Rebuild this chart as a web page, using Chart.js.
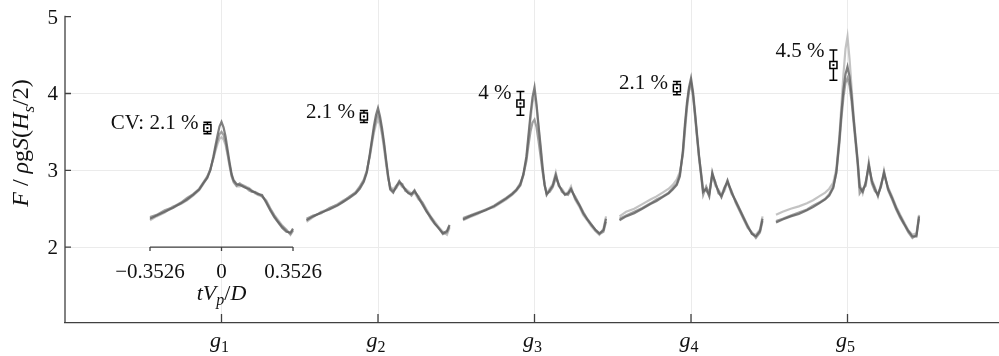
<!DOCTYPE html>
<html>
<head>
<meta charset="utf-8">
<script src="https://cdn.jsdelivr.net/npm/chart.js@4.4.1/dist/chart.umd.min.js"></script>
<style>
  html, body { margin: 0; padding: 0; background: #fff; }
  #wrap { width: 999px; height: 356px; }
</style>
</head>
<body>
<div id="wrap"><canvas id="chart"></canvas></div>
<script>
// categories g1..g5 sit at x = 1..5
const groupSubs = ["1", "2", "3", "4", "5"];
const groupPos = [1, 2, 3, 4, 5];
const yTicks = [2, 3, 4, 5];

// time axis of each trace, tVp/D
const tGrid = [-0.3526, -0.32, -0.28, -0.24, -0.20, -0.17, -0.14, -0.11, -0.09, -0.07, -0.055, -0.04, -0.03, -0.02, -0.01,
  0, 0.01, 0.02, 0.03, 0.04, 0.05, 0.06, 0.075, 0.09, 0.105, 0.12, 0.135, 0.15, 0.165, 0.18,
  0.20, 0.22, 0.24, 0.26, 0.28, 0.30, 0.32, 0.34, 0.3526];

// F / rho g S (Hs/2), three repeats per group (dark, medium, light)
const curvesG1 = [
  [2.37,2.41,2.46,2.51,2.57,2.62,2.68,2.75,2.83,2.90,3.00,3.18,3.32,3.45,3.57,3.63,3.56,3.44,3.27,3.10,2.95,2.87,2.82,2.81,2.79,2.77,2.76,2.73,2.71,2.69,2.68,2.58,2.48,2.39,2.32,2.25,2.20,2.19,2.24],
  [2.39,2.42,2.48,2.52,2.58,2.64,2.69,2.76,2.84,2.92,3.01,3.16,3.28,3.39,3.47,3.50,3.46,3.37,3.22,3.07,2.93,2.85,2.80,2.83,2.80,2.78,2.74,2.72,2.72,2.70,2.66,2.60,2.50,2.41,2.33,2.27,2.22,2.17,2.22],
  [2.35,2.40,2.45,2.53,2.56,2.61,2.67,2.74,2.82,2.91,3.02,3.15,3.25,3.34,3.41,3.43,3.40,3.33,3.20,3.05,2.92,2.84,2.79,2.79,2.81,2.79,2.77,2.74,2.70,2.68,2.66,2.61,2.51,2.42,2.35,2.28,2.23,2.16,2.21]
];
const curvesG2 = [
  [2.35,2.40,2.45,2.49,2.54,2.59,2.64,2.70,2.76,2.85,2.97,3.22,3.40,3.58,3.72,3.81,3.70,3.55,3.36,3.14,2.93,2.75,2.71,2.79,2.86,2.80,2.75,2.70,2.69,2.74,2.64,2.55,2.46,2.39,2.31,2.24,2.18,2.21,2.29],
  [2.37,2.41,2.44,2.51,2.55,2.60,2.66,2.71,2.78,2.87,2.99,3.20,3.37,3.53,3.66,3.74,3.65,3.50,3.32,3.11,2.91,2.77,2.73,2.77,2.84,2.82,2.73,2.71,2.67,2.72,2.66,2.57,2.47,2.37,2.30,2.25,2.17,2.19,2.27],
  [2.33,2.39,2.46,2.50,2.56,2.61,2.65,2.72,2.79,2.88,3.00,3.18,3.34,3.49,3.60,3.66,3.60,3.46,3.28,3.08,2.90,2.79,2.75,2.80,2.83,2.78,2.76,2.73,2.70,2.71,2.62,2.58,2.49,2.40,2.33,2.26,2.20,2.16,2.25]
];
const curvesG3 = [
  [2.36,2.40,2.44,2.48,2.53,2.58,2.63,2.69,2.74,2.81,2.95,3.18,3.45,3.72,3.95,4.08,3.86,3.58,3.32,3.04,2.81,2.68,2.74,2.80,2.94,2.80,2.74,2.68,2.70,2.76,2.64,2.55,2.44,2.36,2.29,2.23,2.18,2.22,2.37],
  [2.38,2.41,2.45,2.49,2.54,2.59,2.64,2.70,2.75,2.83,2.94,3.12,3.32,3.50,3.62,3.66,3.56,3.38,3.18,2.98,2.80,2.70,2.72,2.78,2.90,2.82,2.72,2.69,2.68,2.74,2.66,2.56,2.46,2.37,2.30,2.22,2.17,2.20,2.33],
  [2.35,2.39,2.43,2.49,2.52,2.57,2.62,2.68,2.73,2.80,2.93,3.15,3.40,3.66,3.88,3.98,3.82,3.55,3.28,3.00,2.82,2.70,2.76,2.82,2.97,2.79,2.76,2.70,2.71,2.79,2.62,2.53,2.42,2.35,2.27,2.21,2.16,2.24,2.40]
];
const curvesG4 = [
  [2.35,2.40,2.44,2.50,2.56,2.60,2.65,2.70,2.75,2.81,2.92,3.26,3.60,3.88,4.08,4.20,4.02,3.75,3.46,3.18,2.95,2.72,2.76,2.66,2.97,2.83,2.73,2.65,2.76,2.87,2.71,2.60,2.49,2.38,2.27,2.17,2.14,2.21,2.37],
  [2.37,2.41,2.46,2.51,2.57,2.62,2.66,2.71,2.77,2.83,2.95,3.22,3.55,3.84,4.05,4.15,3.98,3.70,3.42,3.15,2.92,2.68,2.79,2.70,2.94,2.85,2.70,2.67,2.78,2.84,2.73,2.58,2.47,2.36,2.25,2.19,2.12,2.19,2.34],
  [2.40,2.46,2.50,2.56,2.62,2.66,2.71,2.76,2.81,2.88,2.98,3.20,3.50,3.80,4.02,4.12,3.96,3.72,3.44,3.17,2.97,2.75,2.73,2.69,2.95,2.80,2.75,2.68,2.73,2.85,2.69,2.61,2.50,2.39,2.28,2.18,2.16,2.23,2.40]
];
const curvesG5 = [
  [2.32,2.36,2.40,2.43,2.48,2.52,2.57,2.62,2.67,2.77,2.98,3.40,3.75,4.05,4.25,4.35,4.22,3.98,3.68,3.40,3.12,2.78,2.72,2.84,3.07,2.86,2.76,2.67,2.80,2.97,2.76,2.64,2.51,2.40,2.30,2.21,2.14,2.14,2.40],
  [2.34,2.37,2.41,2.45,2.49,2.54,2.58,2.63,2.69,2.79,2.96,3.35,3.68,3.95,4.14,4.20,4.10,3.90,3.62,3.35,3.08,2.70,2.76,2.80,3.10,2.83,2.73,2.69,2.78,2.99,2.74,2.62,2.49,2.38,2.29,2.19,2.12,2.16,2.37],
  [2.42,2.46,2.50,2.53,2.57,2.61,2.66,2.71,2.76,2.84,3.02,3.45,3.85,4.25,4.58,4.74,4.45,4.08,3.72,3.42,3.14,2.82,2.70,2.86,3.04,2.88,2.78,2.66,2.82,2.94,2.78,2.66,2.53,2.42,2.32,2.22,2.16,2.18,2.42]
];

// peak mean and coefficient of variation
const cvMean = [3.55, 3.70, 3.87, 4.07, 4.37];
const cvPct = [2.1, 2.1, 4, 2.1, 4.5];
const cvLabels = ["CV: 2.1 %", "2.1 %", "4 %", "2.1 %", "4.5 %"];

// small time axis under g1
const insetTicks = [-0.3526, 0, 0.3526];
const insetTickLabels = ["\u22120.3526", "0", "0.3526"];
const insetLevel = 2;

const T_SPAN = 0.4569 / 0.3526;   // category units per unit of tVp/D
const CV_SHIFT = -0.09;
const FONT = '"Liberation Serif", "DejaVu Serif", serif';
const AXIS_COL = "#404040";
const GRID_COL = "#ebebeb";
const TEXT_COL = "#111";

const shades = ["rgba(95,95,95,0.8)", "rgba(130,130,130,0.75)", "rgba(180,180,180,0.8)"];
const allCurves = [curvesG1, curvesG2, curvesG3, curvesG4, curvesG5];

const datasets = [];
allCurves.forEach((set, gi) => {
  set.forEach((ys, k) => {
    datasets.push({
      type: "line",
      data: ys.map((v, i) => ({ x: groupPos[gi] + tGrid[i] * T_SPAN, y: v })),
      borderColor: shades[k],
      borderWidth: 2.2,
      pointRadius: 0,
      tension: 0,
      order: k + 1,
    });
  });
});
datasets.push({
  type: "scatter",
  data: cvMean.map((m, i) => ({ x: groupPos[i] + CV_SHIFT, y: m })),
  pointStyle: "rect",
  pointRadius: 5,
  backgroundColor: "#fff",
  borderColor: "#000",
  borderWidth: 1.5,
  order: 0,
});

function drawRich(ctx, segs, x, y, size, align) {
  const fontOf = s => `${s.it ? "italic " : ""}${s.sub ? Math.round(size * 0.72) : size}px ${FONT}`;
  let w = 0;
  segs.forEach(s => { ctx.font = fontOf(s); s.w = ctx.measureText(s.t).width; w += s.w; });
  let cx = align === "center" ? x - w / 2 : align === "right" ? x - w : x;
  ctx.textAlign = "left";
  ctx.textBaseline = "alphabetic";
  segs.forEach(s => {
    ctx.font = fontOf(s);
    ctx.fillText(s.t, cx, y + (s.sub ? size * 0.24 : 0));
    cx += s.w;
  });
}

const overlay = {
  id: "overlay",
  beforeDatasetsDraw(chart) {
    const { ctx, scales: { x, y } } = chart;
    ctx.save();
    ctx.strokeStyle = "#000";
    ctx.lineWidth = 1.5;
    cvMean.forEach((m, i) => {
      const err = m * cvPct[i] / 100;
      const px = x.getPixelForValue(groupPos[i] + CV_SHIFT);
      const top = y.getPixelForValue(m + err);
      const bot = y.getPixelForValue(m - err);
      ctx.beginPath();
      ctx.moveTo(px, top); ctx.lineTo(px, bot);
      ctx.moveTo(px - 4, top); ctx.lineTo(px + 4, top);
      ctx.moveTo(px - 4, bot); ctx.lineTo(px + 4, bot);
      ctx.stroke();
    });
    ctx.restore();
  },
  afterDatasetsDraw(chart) {
    const { ctx, chartArea: ca, scales: { x, y } } = chart;
    ctx.save();
    ctx.fillStyle = TEXT_COL;

    // marker centres and CV labels
    cvMean.forEach((m, i) => {
      const err = m * cvPct[i] / 100;
      const px = x.getPixelForValue(groupPos[i] + CV_SHIFT);
      const py = y.getPixelForValue(m);
      ctx.fillStyle = "#000";
      ctx.fillRect(px - 1, py - 1, 2, 2);
      ctx.fillStyle = TEXT_COL;
      ctx.font = `21px ${FONT}`;
      ctx.textAlign = "right";
      ctx.textBaseline = "alphabetic";
      ctx.fillText(cvLabels[i], px - 9, y.getPixelForValue(m + err) + 7);
    });

    // y tick labels
    ctx.font = `21px ${FONT}`;
    ctx.textAlign = "right";
    ctx.textBaseline = "alphabetic";
    yTicks.forEach(v => ctx.fillText(String(v), ca.left - 7, y.getPixelForValue(v) + 7));

    // left axis line, only up to 5, with inward ticks
    ctx.strokeStyle = AXIS_COL;
    ctx.lineWidth = 1.3;
    ctx.beginPath();
    ctx.moveTo(ca.left, ca.bottom);
    ctx.lineTo(ca.left, y.getPixelForValue(yTicks[yTicks.length - 1]) - 1);
    yTicks.forEach(v => {
      const py = y.getPixelForValue(v);
      ctx.moveTo(ca.left, py); ctx.lineTo(ca.left + 6, py);
    });
    groupPos.forEach(v => {
      const px = x.getPixelForValue(v);
      ctx.moveTo(px, ca.bottom); ctx.lineTo(px, ca.bottom - 9);
    });
    ctx.stroke();

    // group labels g1..g5
    groupPos.forEach((v, i) => {
      drawRich(ctx, [{ t: "g", it: true }, { t: groupSubs[i], sub: true }],
        x.getPixelForValue(v) - 2, 347, 22, "center");
    });

    // inset time axis under g1
    const iy = y.getPixelForValue(insetLevel);
    const ix = insetTicks.map(t => x.getPixelForValue(groupPos[0] + t * T_SPAN));
    ctx.beginPath();
    ctx.moveTo(ix[0], iy); ctx.lineTo(ix[ix.length - 1], iy);
    ix.forEach(px => { ctx.moveTo(px, iy); ctx.lineTo(px, iy + 4); });
    ctx.stroke();
    ctx.font = `21px ${FONT}`;
    ctx.textAlign = "center";
    ctx.textBaseline = "alphabetic";
    insetTickLabels.forEach((s, i) => ctx.fillText(s, ix[i], iy + 31));
    drawRich(ctx, [{ t: "tV", it: true }, { t: "p", it: true, sub: true }, { t: "/" }, { t: "D", it: true }],
      ix[1], iy + 53, 22, "center");

    // y axis title
    ctx.translate(28, 143);
    ctx.rotate(-Math.PI / 2);
    drawRich(ctx, [
      { t: "F", it: true }, { t: " / " }, { t: "\u03c1", it: true }, { t: "g" }, { t: "S", it: true },
      { t: "(" }, { t: "H", it: true }, { t: "s", it: true, sub: true }, { t: "/2)" }
    ], 0, 0, 24, "center");
    ctx.restore();
  }
};

const chart = new Chart(document.getElementById("chart"), {
  data: { datasets },
  options: {
    animation: false,
    responsive: true,
    maintainAspectRatio: false,
    layout: { padding: 0, autoPadding: false },
    plugins: { legend: { display: false }, tooltip: { enabled: false } },
    scales: {
      x: {
        type: "linear",
        min: 0,
        max: 5.968,
        afterBuildTicks: s => { s.ticks = groupPos.map(v => ({ value: v })); },
        afterFit: s => { s.height = 33; },
        ticks: { display: false },
        grid: { color: GRID_COL, drawTicks: false },
        border: { display: true, color: AXIS_COL, width: 1.3 },
      },
      y: {
        type: "linear",
        min: 1.012,
        max: 5.217,
        afterBuildTicks: s => { s.ticks = yTicks.map(v => ({ value: v })); },
        afterFit: s => { s.width = 65; },
        ticks: { display: false },
        grid: {
          color: c => (c.tick && c.tick.value === yTicks[yTicks.length - 1]) ? "rgba(0,0,0,0)" : GRID_COL,
          drawTicks: false,
        },
        border: { display: false },
      }
    }
  },
  plugins: [overlay]
});
</script>
</body>
</html>
